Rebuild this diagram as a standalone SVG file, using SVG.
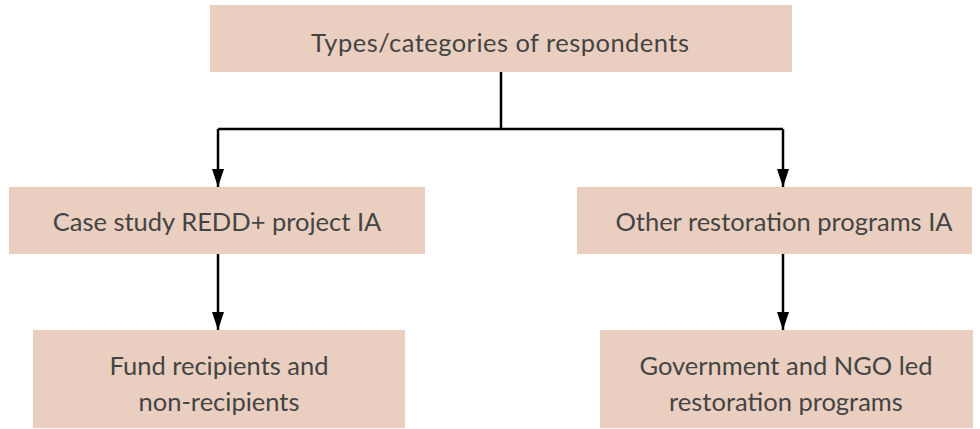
<svg xmlns="http://www.w3.org/2000/svg" width="980" height="429" viewBox="0 0 980 429">
<style>
.box{fill:#eacfc0}
.t{font-family:Lato,"Noto Sans",sans-serif;font-size:25.5px;fill:#444;text-anchor:middle}
.c{stroke:#000;stroke-width:2.5;fill:none}
</style>
<defs>
<marker id="ah" markerWidth="18" markerHeight="12" refX="18" refY="6" orient="auto" markerUnits="userSpaceOnUse" viewBox="0 0 18 12">
<path d="M0,0 L18,6 L0,12 Z" fill="#000"/>
</marker>
</defs>
<rect width="980" height="429" fill="#fff"/>
<g id="connectors">
<path class="c" d="M501,72 V129"/>
<path class="c" d="M218,129 H783"/>
<path class="c" d="M218,129 V187" marker-end="url(#ah)"/>
<path class="c" d="M783,129 V187" marker-end="url(#ah)"/>
<path class="c" d="M218,254 V330" marker-end="url(#ah)"/>
<path class="c" d="M783,254 V330" marker-end="url(#ah)"/>
</g>
<g id="n1"><rect class="box" x="210" y="5" width="582" height="67"/><text class="t" x="500" y="52" textLength="378" lengthAdjust="spacing">Types/categories of respondents</text></g>
<g id="n2"><rect class="box" x="9" y="187" width="416" height="67"/><text class="t" x="217" y="231">Case study REDD+ project IA</text></g>
<g id="n3"><rect class="box" x="577" y="187" width="395" height="67"/><text class="t" x="784" y="231">Other restoration programs IA</text></g>
<g id="n4"><rect class="box" x="33" y="330" width="372" height="98"/><text class="t" x="219" y="375">Fund recipients and</text><text class="t" x="219" y="411">non-recipients</text></g>
<g id="n5"><rect class="box" x="600" y="330" width="373" height="98"/><text class="t" x="786" y="375">Government and NGO led</text><text class="t" x="786" y="411">restoration programs</text></g>
</svg>
